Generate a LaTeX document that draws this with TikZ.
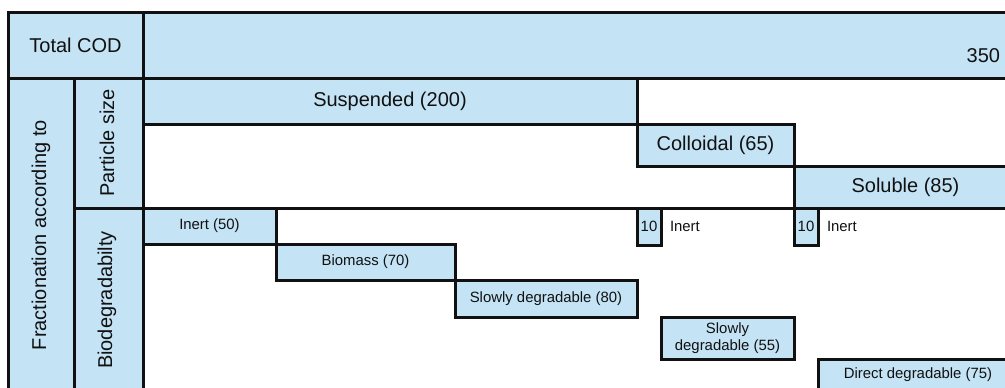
\documentclass[tikz,border=0pt]{standalone}
\usepackage{fontspec}
\setmainfont{Liberation Sans}
\definecolor{cellblue}{RGB}{196,227,245}
\definecolor{ink}{RGB}{17,17,17}
\begin{document}
\begin{tikzpicture}[x=1pt,y=-1pt,
  frame/.style={draw=ink, line width=3pt, outer sep=0pt, inner sep=0pt, anchor=north west},
  cell/.style={frame, fill=cellblue, text=ink},
  blank/.style={frame, fill=white},
  big/.style={font=\fontsize{20}{23}\selectfont},
  small/.style={font=\fontsize{14.9}{17}\selectfont},
  lbl/.style={text=ink, inner sep=0pt, outer sep=0pt},
]
\useasboundingbox (0,0) rectangle (1005,388);
\clip (0,0) rectangle (1005,388);

% header row
\node[cell, big, minimum width=135pt, minimum height=66pt] (totcod) at (8,12) {Total COD};
\node[cell, minimum width=874pt, minimum height=66pt] (totbar) at (143,12) {};
\node[lbl, big, anchor=base east] (totval) at (1000,62) {350};

% row headers
\node[cell, minimum width=66pt, minimum height=320pt] (frac) at (8,78) {};
\node[lbl, big, rotate=90] (fractxt) at (41,235) {Fractionation according to};
\node[cell, minimum width=69pt, minimum height=130pt] (psize) at (74,78) {};
\node[lbl, big, rotate=90] (psizetxt) at (107,143) {Particle size};
\node[cell, minimum width=69pt, minimum height=190pt] (biodeg) at (74,208) {};
\node[lbl, big, rotate=90] (biodegtxt) at (107,300) {Biodegradabilty};

% particle size fractions
\node[blank, minimum width=874pt, minimum height=130pt] (psarea) at (143,78) {};
\node[cell, big, minimum width=494pt, minimum height=46pt] (susp) at (143,78) {Suspended (200)};
\node[cell, big, minimum width=157pt, minimum height=42pt] (coll) at (637,124) {Colloidal (65)};
\node[cell, big, minimum width=223pt, minimum height=42pt] (sol) at (794,166) {Soluble (85)};

% biodegradability fractions
\node[cell, small, minimum width=133pt, minimum height=36pt] (inert) at (143,208) {Inert (50)};
\node[cell, small, minimum width=179pt, minimum height=36pt] (biom) at (276,244) {Biomass (70)};
\node[cell, small, minimum width=182pt, minimum height=37pt] (slow) at (455,280) {Slowly degradable (80)};

\node[cell, small, minimum width=24pt, minimum height=37pt] (tenc) at (637,208) {10};
\node[lbl, small, anchor=west] (inertc) at (670,226.5) {Inert};
\node[cell, small, minimum width=24pt, minimum height=37pt] (tens) at (794,208) {10};
\node[lbl, small, anchor=west] (inerts) at (827,226.5) {Inert};

\node[cell, small, align=center, minimum width=133pt, minimum height=42pt] (slowc) at (661,317) {Slowly\\degradable (55)};
\node[cell, small, minimum width=200pt, minimum height=31pt] (direct) at (818,359) {Direct degradable (75)};
\end{tikzpicture}
\end{document}
